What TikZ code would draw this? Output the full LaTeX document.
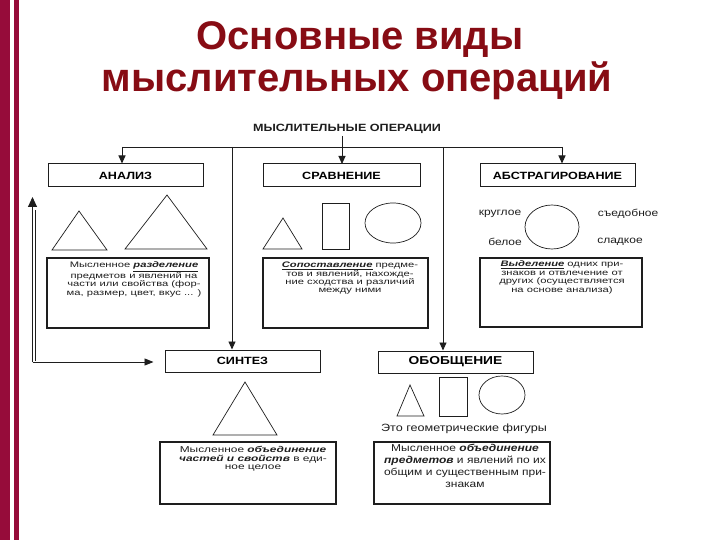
\documentclass[tikz,border=0pt]{standalone}
\usepackage{fontspec}
\setmainfont{Liberation Sans}
\newfontfamily\wide[FakeStretch=1.2]{Liberation Sans}
\newfontfamily\wider[FakeStretch=1.4]{Liberation Sans}
\usetikzlibrary{arrows.meta}
\definecolor{barred}{RGB}{150,12,58}
\definecolor{titlered}{RGB}{135,12,20}
\definecolor{ink}{RGB}{30,30,30}
\begin{document}
\begin{tikzpicture}[x=1pt,y=-1pt,
  hdr/.style={draw=ink, line width=1pt, minimum width=155pt, minimum height=23pt, inner sep=0pt,
    font=\wide\bfseries\fontsize{10.5}{12}\selectfont},
  tbox/.style={draw=ink, line width=1.1pt},
  body/.style={align=center, inner sep=0pt, anchor=north, text=ink,
    font=\wider\fontsize{8}{8.4}\selectfont},
  lbl/.style={inner sep=0pt, text=ink, font=\wide\fontsize{10}{12}\selectfont},
  shp/.style={draw=ink, line width=0.7pt},
  ln/.style={draw=ink, line width=0.9pt},
  arr/.style={ln, -{Triangle[length=8pt,width=7pt]}},
  ttl/.style={anchor=base, text=titlered, inner sep=0pt, font=\bfseries\fontsize{40}{44}\selectfont}]
\useasboundingbox[fill=white] (0,0) rectangle (720,540);
\fill[barred] (0,0) rectangle (10,540);
\fill[barred] (14,0) rectangle (19,540);

% title
\node[ttl] (t1) at (360,50) {Основные виды};
\node[ttl] (t2) at (357,92) {мыслительных операций};

% top label
\node[inner sep=0pt, text=ink, font=\wide\bfseries\fontsize{10.5}{12}\selectfont] (ops) at (347,129) {МЫСЛИТЕЛЬНЫЕ ОПЕРАЦИИ};

% header boxes
\node[hdr] (an) at (125.5,175.5) {АНАЛИЗ};
\node[hdr, minimum width=157pt] (cmp) at (341.5,175.5) {СРАВНЕНИЕ};
\node[hdr] (abs) at (557.5,175.5) {АБСТРАГИРОВАНИЕ};
\node[hdr, minimum height=22pt] (syn) at (242.5,361) {СИНТЕЗ};
\node[hdr, minimum height=22pt, font=\wide\bfseries\fontsize{11.5}{13}\selectfont] (gen) at (455.5,362) {ОБОБЩЕНИЕ};

% connectors
\coordinate (jl) at (122,147);
\coordinate (jr) at (562,147);
\coordinate (js) at (232,147);
\coordinate (jg) at (443,147);
\draw[ln] (jl) -- (jr);
\draw[arr] (342,136) -- (342,164);
\draw[arr] (jl) -- (jl |- an.north);
\draw[arr] (jr) -- (jr |- abs.north);
\draw[arr] (js) -- (js |- syn.north);
\draw[arr] (jg) -- (jg |- gen.north);

% left feedback loop
\coordinate (lt) at (32.5,197);
\coordinate (lc) at (32.5,362);
\coordinate (lt2) at (35.3,210);
\coordinate (lc2) at (35.3,361);
\draw[ln, -{Triangle[length=10pt,width=9pt]}] (lc) -- (lt);
\draw[draw=ink, line width=0.6pt] (lc2) -- (lt2);
\draw[ln, -{Triangle[length=9pt,width=7pt]}, shorten >=11pt] (lc) -- (lc -| syn.west);

% АНАЛИЗ figures
\draw[shp] (79,211) -- (52,250) -- (107,250) -- cycle;
\draw[shp] (167,195) -- (125,249) -- (207,249) -- cycle;
\draw[tbox] (47,258) rectangle (209,328);
\node[body] (antx) at (134,262) {Мысленное \underline{\textbf{\textit{разделение}}}\\предметов и явлений на\\части или свойства (фор-\\ма, размер, цвет, вкус ... )};

% СРАВНЕНИЕ figures
\draw[shp] (283,218) -- (263,249) -- (302,249) -- cycle;
\draw[shp] (322,203) rectangle (349,249);
\draw[shp] (393,223) ellipse [x radius=28, y radius=20];
\draw[tbox] (263,258) rectangle (428,328);
\node[body] (cmptx) at (350,262) {\underline{\textbf{\textit{Сопоставление}}} предме-\\тов и явлений, нахожде-\\ние сходства и различий\\между ними};

% АБСТРАГИРОВАНИЕ figures
\draw[shp] (552,227) ellipse [x radius=27, y radius=22];
\node[lbl] (l1) at (500,214) {круглое};
\node[lbl] (l2) at (628,214) {съедобное};
\node[lbl] (l3) at (505,242) {белое};
\node[lbl] (l4) at (620,242) {сладкое};
\draw[tbox] (480,258) rectangle (642,327);
\node[body] (abstx) at (562,261) {\underline{\textbf{\textit{Выделение}}} одних при-\\знаков и отвлечение от\\других (осуществляется\\на основе анализа)};

% СИНТЕЗ figures
\draw[shp] (245,382) -- (213,435) -- (277,435) -- cycle;
\draw[tbox] (160,442) rectangle (336,504);
\node[body, font=\wider\fontsize{8.5}{8.6}\selectfont] (syntx) at (253,446) {Мысленное \textbf{\textit{объединение}}\\\textbf{\textit{частей и свойств}} в еди-\\ное целое};

% ОБОБЩЕНИЕ figures
\draw[shp] (410,385) -- (397,416) -- (424,416) -- cycle;
\draw[shp] (439,377) rectangle (467,416);
\draw[shp] (502,395) ellipse [x radius=23, y radius=19];
\node[lbl, font=\wide\fontsize{10.5}{12}\selectfont] (geo) at (464,429) {Это геометрические фигуры};
\draw[tbox] (374,442) rectangle (550,504);
\node[body, font=\wide\fontsize{10}{12}\selectfont] (gentx) at (465,444) {Мысленное \textbf{\textit{объединение}}\\\textbf{\textit{предметов}} и явлений по их\\общим и существенным при-\\знакам};
\end{tikzpicture}
\end{document}
